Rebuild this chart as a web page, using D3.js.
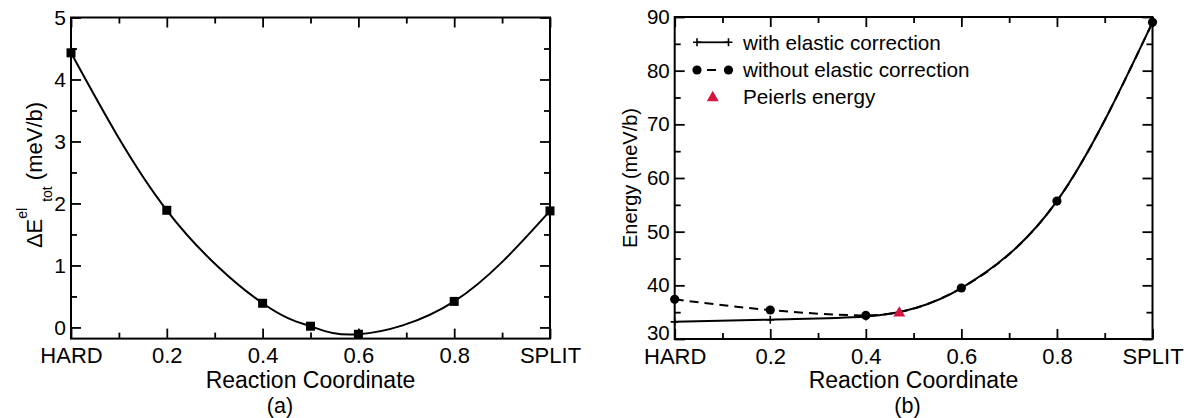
<!DOCTYPE html>
<html>
<head>
<meta charset="utf-8">
<script src="https://cdn.jsdelivr.net/npm/d3@7"></script>
<style>
  html, body { margin: 0; padding: 0; background: #fff; }
  svg { display: block; font-family: "Liberation Sans", Arial, Helvetica, sans-serif; }
</style>
</head>
<body>
<svg id="chart" width="1192" height="418"></svg>
<script>
// ---------- data ----------
const rcA = [0, 0.2, 0.4, 0.5, 0.6, 0.8, 1.0];
const dEtot = [4.43, 1.89, 0.39, 0.02, -0.11, 0.42, 1.88];

const rcB = [0, 0.2, 0.4, 0.6, 0.8, 1.0];
const withElastic = [33.2, 33.6, 34.2, 39.5, 55.7, 89.0];
const withoutElastic = [37.4, 35.4, 34.4, 39.5, 55.7, 89.0];
const peierlsX = [0.47];
const peierlsY = [35.0];

const xTickValues = [0, 0.2, 0.4, 0.6, 0.8, 1.0];
const xTickLabels = ["HARD", "0.2", "0.4", "0.6", "0.8", "SPLIT"];
const xMinorTicks = [0.1, 0.3, 0.5, 0.7, 0.9];
const yTicksA = [0, 1, 2, 3, 4, 5];
const yMinorA = [0.5, 1.5, 2.5, 3.5, 4.5];
const yTicksB = [30, 40, 50, 60, 70, 80, 90];
const yMinorB = [35, 45, 55, 65, 75, 85];
const legendLabels = ["with elastic correction", "without elastic correction", "Peierls energy"];

// ---------- helpers ----------
const svg = d3.select("#chart");
const RED = "#d6153f";

function framePanel(g, x, y, yTicks, yMinor, yFont) {
  const [x0, x1] = x.range();
  const [yb, yt] = y.range();
  const fmtX = d => xTickLabels[xTickValues.indexOf(d)];
  // bottom
  const b = g.append("g").attr("transform", `translate(0,${yb})`)
    .call(d3.axisBottom(x).tickValues(xTickValues).tickSize(-10).tickPadding(9).tickFormat(fmtX));
  b.selectAll("text").attr("font-size", 22).attr("fill", "#000");
  g.append("g").attr("transform", `translate(0,${yb})`)
    .call(d3.axisBottom(x).tickValues(xMinorTicks).tickSize(-6).tickFormat(""));
  // top
  g.append("g").attr("transform", `translate(0,${yt})`)
    .call(d3.axisTop(x).tickValues(xTickValues).tickSize(-10).tickFormat(""));
  g.append("g").attr("transform", `translate(0,${yt})`)
    .call(d3.axisTop(x).tickValues(xMinorTicks).tickSize(-6).tickFormat(""));
  // left
  const l = g.append("g").attr("transform", `translate(${x0},0)`)
    .call(d3.axisLeft(y).tickValues(yTicks).tickSize(-10).tickPadding(5).tickFormat(d3.format("d")));
  l.selectAll("text").attr("font-size", yFont).attr("fill", "#000");
  g.append("g").attr("transform", `translate(${x0},0)`)
    .call(d3.axisLeft(y).tickValues(yMinor).tickSize(-6).tickFormat(""));
  // right
  g.append("g").attr("transform", `translate(${x1},0)`)
    .call(d3.axisRight(y).tickValues(yTicks).tickSize(-10).tickFormat(""));
  g.append("g").attr("transform", `translate(${x1},0)`)
    .call(d3.axisRight(y).tickValues(yMinor).tickSize(-6).tickFormat(""));
  g.selectAll(".domain").remove();
  g.selectAll(".tick line").attr("stroke", "#000").attr("stroke-width", 1.8);
  g.append("rect").attr("x", x0).attr("y", yt).attr("width", x1 - x0).attr("height", yb - yt)
    .attr("fill", "none").attr("stroke", "#000").attr("stroke-width", 2);
  return l;
}

// ---------- panel (a) ----------
const xA = d3.scaleLinear().domain([0, 1]).range([71, 550]);
const yA = d3.scaleLinear().domain([-0.18, 5]).range([338.6, 17.5]);
const gA = svg.append("g");
framePanel(gA, xA, yA, yTicksA, yMinorA, 21);

const ptsA = rcA.map((r, i) => [r, dEtot[i]]);
gA.append("path").datum(ptsA)
  .attr("d", d3.line().x(d => xA(d[0])).y(d => yA(d[1])).curve(d3.curveNatural))
  .attr("fill", "none").attr("stroke", "#000").attr("stroke-width", 2);
gA.selectAll("rect.pt").data(ptsA).enter().append("rect").attr("class", "pt")
  .attr("x", d => xA(d[0]) - 4.5).attr("y", d => yA(d[1]) - 4.5)
  .attr("width", 9).attr("height", 9).attr("fill", "#000");

// y label (a)
const ylA = gA.append("text").attr("transform", "translate(42,175) rotate(-90)")
  .attr("text-anchor", "middle").attr("font-size", 22).attr("fill", "#000");
ylA.append("tspan").text("ΔE");
ylA.append("tspan").attr("font-size", 14).attr("dy", -15).text("el");
ylA.append("tspan").attr("font-size", 14).attr("dy", 25).attr("dx", 6).text("tot");
ylA.append("tspan").attr("dy", -10).text(" (meV/b)");

gA.append("text").attr("x", 310.5).attr("y", 388).attr("text-anchor", "middle")
  .attr("font-size", 23).text("Reaction Coordinate");
gA.append("text").attr("x", 280).attr("y", 413).attr("text-anchor", "middle")
  .attr("font-size", 21.5).text("(a)");

// ---------- panel (b) ----------
const xB = d3.scaleLinear().domain([0, 1]).range([674.7, 1152.5]);
const yB = d3.scaleLinear().domain([30, 90]).range([339, 17]);
const gB = svg.append("g");
const leftB = framePanel(gB, xB, yB, yTicksB, yMinorB, 20.5);
// lowest label sits slightly raised, clear of "HARD"
leftB.selectAll(".tick").filter(d => d === 30).select("text").attr("y", -6.5);

const lineB = d3.line().x(d => xB(d[0])).y(d => yB(d[1])).curve(d3.curveMonotoneX);
const ptsWith = rcB.map((r, i) => [r, withElastic[i]]);
const ptsWithout = rcB.map((r, i) => [r, withoutElastic[i]]);

function plusPath(cx, cy, s) {
  return `M${cx - s},${cy}H${cx + s}M${cx},${cy - s}V${cy + s}`;
}

gB.append("path").datum(ptsWith).attr("d", lineB)
  .attr("fill", "none").attr("stroke", "#000").attr("stroke-width", 2);
gB.selectAll("path.plus").data(ptsWith).enter().append("path").attr("class", "plus")
  .attr("d", d => plusPath(xB(d[0]), yB(d[1]), 4))
  .attr("stroke", "#000").attr("stroke-width", 1.6);

gB.append("path").datum(ptsWithout).attr("d", lineB)
  .attr("fill", "none").attr("stroke", "#000").attr("stroke-width", 2)
  .attr("stroke-dasharray", "9,6");
gB.selectAll("circle.pt").data(ptsWithout).enter().append("circle").attr("class", "pt")
  .attr("cx", d => xB(d[0])).attr("cy", d => yB(d[1])).attr("r", 4.6).attr("fill", "#000");

const tri = d3.symbol().type(d3.symbolTriangle).size(62);
gB.selectAll("path.peierls").data(peierlsX.map((p, i) => [p, peierlsY[i]])).enter()
  .append("path").attr("class", "peierls")
  .attr("transform", d => `translate(${xB(d[0])},${yB(d[1]) + 1})`)
  .attr("d", tri).attr("fill", RED);

// legend
const lg = gB.append("g");
const lx0 = 697, lx1 = 728.5, ltx = 743;
const rows = [42.3, 70, 96.7];
lg.append("line").attr("x1", lx0).attr("x2", lx1).attr("y1", rows[0]).attr("y2", rows[0])
  .attr("stroke", "#000").attr("stroke-width", 1.8);
[lx0, lx1].forEach(px => lg.append("path").attr("d", plusPath(px, rows[0], 4))
  .attr("stroke", "#000").attr("stroke-width", 1.6));
lg.append("line").attr("x1", lx0).attr("x2", lx1).attr("y1", rows[1]).attr("y2", rows[1])
  .attr("stroke", "#000").attr("stroke-width", 2).attr("stroke-dasharray", "0,10,9,20");
[lx0, lx1].forEach(px => lg.append("circle").attr("cx", px).attr("cy", rows[1]).attr("r", 4.6).attr("fill", "#000"));
lg.append("path").attr("transform", `translate(${(lx0 + lx1) / 2},${rows[2] + 1})`)
  .attr("d", tri).attr("fill", RED);
legendLabels.forEach((t, i) => {
  lg.append("text").attr("x", ltx).attr("y", rows[i] + 7.3).attr("font-size", 20.7).text(t);
});

// y label (b)
gB.append("text").attr("transform", "translate(637,178) rotate(-90)")
  .attr("text-anchor", "middle").attr("font-size", 20).text("Energy (meV/b)");
gB.append("text").attr("x", 913.5).attr("y", 388).attr("text-anchor", "middle")
  .attr("font-size", 23).text("Reaction Coordinate");
gB.append("text").attr("x", 907.5).attr("y", 413).attr("text-anchor", "middle")
  .attr("font-size", 21.5).text("(b)");
</script>
</body>
</html>
